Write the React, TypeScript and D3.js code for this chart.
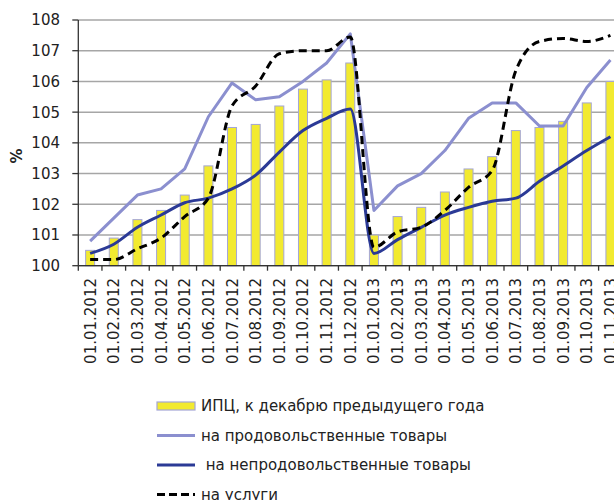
import * as d3 from 'd3';

const months = [
  '01.01.2012', '01.02.2012', '01.03.2012', '01.04.2012', '01.05.2012', '01.06.2012',
  '01.07.2012', '01.08.2012', '01.09.2012', '01.10.2012', '01.11.2012', '01.12.2012',
  '01.01.2013', '01.02.2013', '01.03.2013', '01.04.2013', '01.05.2013', '01.06.2013',
  '01.07.2013', '01.08.2013', '01.09.2013', '01.10.2013', '01.11.2013',
];

// ИПЦ, к декабрю предыдущего года
const cpi = [
  100.5, 100.9, 101.5, 101.8, 102.3, 103.25, 104.5, 104.6, 105.2, 105.75, 106.05, 106.6,
  101.0, 101.6, 101.9, 102.4, 103.15, 103.55, 104.4, 104.5, 104.7, 105.3, 106.0,
];
// на продовольственные товары
const food = [
  100.8, 101.55, 102.3, 102.5, 103.15, 104.85, 105.95, 105.4, 105.5, 106.0, 106.6, 107.55,
  101.8, 102.6, 103.0, 103.75, 104.8, 105.3, 105.3, 104.55, 104.55, 105.8, 106.7,
];
// на непродовольственные товары
const nonFood = [
  100.4, 100.7, 101.25, 101.65, 102.05, 102.2, 102.5, 102.95, 103.7, 104.4, 104.8, 105.1,
  100.4, 100.85, 101.25, 101.65, 101.9, 102.1, 102.2, 102.75, 103.25, 103.75, 104.2,
];
// на услуги
const services = [
  100.2, 100.2, 100.55, 100.9, 101.6, 102.2, 105.2, 105.85, 106.9, 107.0, 107.0, 107.45,
  100.6, 101.1, 101.25, 101.8, 102.55, 103.1, 106.35, 107.3, 107.4, 107.3, 107.5,
];

const yTicks = [100, 101, 102, 103, 104, 105, 106, 107, 108];

const legendItems = [
  { label: 'ИПЦ, к декабрю предыдущего года', kind: 'bar' },
  { label: 'на продовольственные товары', kind: 'food' },
  { label: ' на непродовольственные товары', kind: 'nonfood' },
  { label: 'на услуги', kind: 'services' },
];

const FONT = 'DejaVu Sans, Verdana, sans-serif';

export default function App() {
  const width = 614;
  const height = 500;
  const left = 78.3;
  const step = 23.65;

  const x = d3.scaleBand<string>().domain(months).range([left, left + step * months.length]).padding(0);
  const y = d3.scaleLinear().domain([100, 108]).range([265.7, 20]);
  const cx = (i: number) => (x(months[i]) ?? 0) + x.bandwidth() / 2;
  const barW = 9;

  const linear = d3.line<number>().x((_, i) => cx(i)).y((d) => y(d));
  const smooth = d3
    .line<number>()
    .x((_, i) => cx(i))
    .y((d) => y(d))
    .curve(d3.curveMonotoneX);

  const colFood = '#8b8fcf';
  const colNonFood = '#2b3a96';

  return (
    <svg width={width} height={height} style={{ position: 'absolute', left: 0, top: 0 }} fontFamily={FONT}>
      <rect width={width} height={height} fill="#fff" />

      {/* gridlines */}
      {yTicks.map((v) => (
        <line key={v} x1={left} x2={width} y1={y(v)} y2={y(v)} stroke="#a6a6a6" strokeWidth={1.5} />
      ))}

      {/* bars */}
      {cpi.map((v, i) => (
        <rect
          key={i}
          x={cx(i) - barW / 2}
          y={y(v)}
          width={barW}
          height={y(100) - y(v)}
          fill="#f2ea30"
          stroke="#a4a6d6"
          strokeWidth={1}
        />
      ))}

      {/* lines */}
      <path d={linear(food) ?? undefined} fill="none" stroke={colFood} strokeWidth={3} strokeLinejoin="round" />
      <path d={smooth(nonFood) ?? undefined} fill="none" stroke={colNonFood} strokeWidth={3} strokeLinejoin="round" />
      <path
        d={smooth(services) ?? undefined}
        fill="none"
        stroke="#000"
        strokeWidth={3}
        strokeDasharray="8 5"
      />

      {/* y axis */}
      <line x1={left} x2={left} y1={y(108)} y2={y(100)} stroke="#333" strokeWidth={1.3} />
      {yTicks.map((v) => (
        <g key={`yt-${v}`}>
          <line x1={left - 6} x2={left} y1={y(v)} y2={y(v)} stroke="#333" strokeWidth={1.3} />
          <text x={60} y={y(v)} dy="0.36em" textAnchor="end" fontSize={15} fill="#222">
            {v}
          </text>
        </g>
      ))}
      <text
        transform={`translate(22, ${156}) rotate(-90)`}
        textAnchor="middle"
        fontSize={15}
        fontWeight="bold"
        fill="#222"
      >
        %
      </text>

      {/* x axis */}
      <line x1={left} x2={width} y1={y(100)} y2={y(100)} stroke="#333" strokeWidth={1.3} />
      {months.map((m, i) => (
        <line
          key={`xt-${m}`}
          x1={x(m) ?? 0}
          x2={x(m) ?? 0}
          y1={y(100)}
          y2={y(100) + 5}
          stroke="#333"
          strokeWidth={1.3}
        />
      ))}
      {months.map((m, i) => (
        <text
          key={`xl-${m}`}
          transform={`translate(${cx(i) + 5.5}, 278) rotate(-90)`}
          textAnchor="end"
          fontSize={15}
          fill="#222"
        >
          {m}
        </text>
      ))}

      {/* legend */}
      {legendItems.map((it, i) => {
        const ly = 406 + i * 29.5;
        return (
          <g key={it.kind}>
            {it.kind === 'bar' && (
              <rect x={157} y={ly - 4} width={38} height={8} fill="#f2ea30" stroke="#a4a6d6" strokeWidth={1.2} />
            )}
            {it.kind === 'food' && <line x1={157} x2={195} y1={ly} y2={ly} stroke={colFood} strokeWidth={3} />}
            {it.kind === 'nonfood' && <line x1={157} x2={195} y1={ly} y2={ly} stroke={colNonFood} strokeWidth={3} />}
            {it.kind === 'services' && (
              <line x1={157} x2={195} y1={ly} y2={ly} stroke="#000" strokeWidth={3} strokeDasharray="8 4" />
            )}
            <text x={201} y={ly} dy="0.36em" fontSize={15} fill="#222" style={{ whiteSpace: 'pre' }}>
              {it.label}
            </text>
          </g>
        );
      })}
    </svg>
  );
}
